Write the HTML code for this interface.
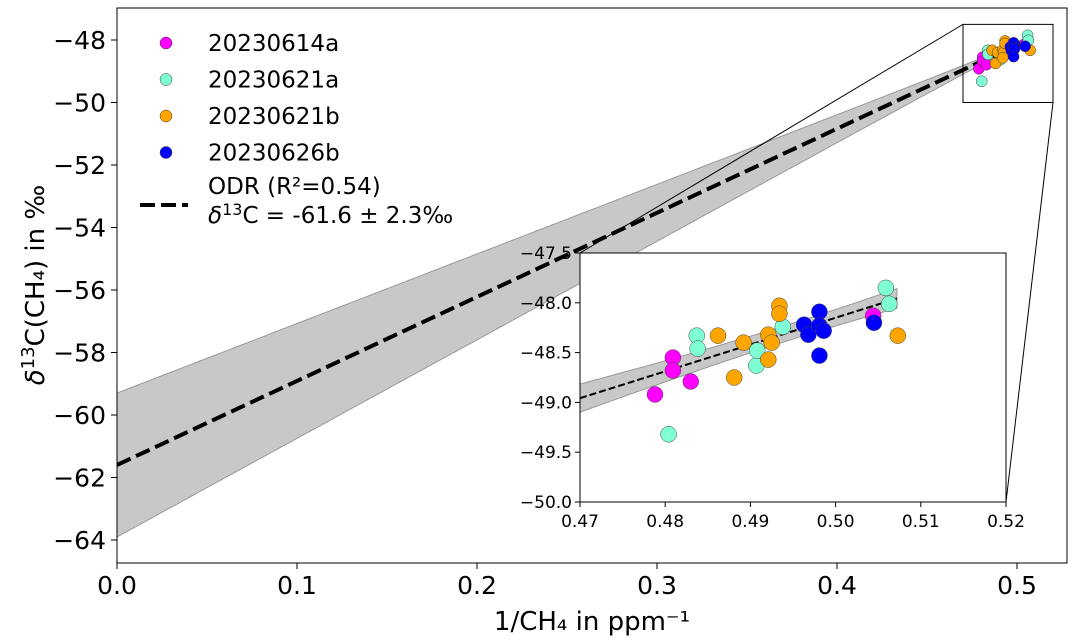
<!DOCTYPE html>
<html><head><meta charset="utf-8"><style>
body{margin:0;background:#fff;}
svg{display:block;font-family:"DejaVu Sans","Liberation Sans",sans-serif;}
</style></head><body>
<svg id="chart" width="1072" height="640" viewBox="0 0 1072 640"></svg>
<script>
const seriesNames=["20230614a","20230621a","20230621b","20230626b"];
const seriesColors=["#ff00ff","#7fffd4","#ffa500","#0000ff"];
const magX=[0.4788,0.4809,0.4809,0.4830,0.5044];
const magY=[-48.92,-48.55,-48.68,-48.79,-48.13];
const cyanX=[0.4804,0.4837,0.4838,0.4907,0.4908,0.4938,0.5059,0.5063];
const cyanY=[-49.32,-48.33,-48.46,-48.63,-48.48,-48.24,-47.85,-48.01];
const orangeX=[0.4862,0.4881,0.4892,0.4921,0.4925,0.4921,0.4934,0.4934,0.5073];
const orangeY=[-48.33,-48.75,-48.40,-48.32,-48.40,-48.57,-48.03,-48.11,-48.33];
const blueX=[0.4963,0.4968,0.4981,0.4981,0.4986,0.4981,0.5045];
const blueY=[-48.22,-48.32,-48.09,-48.23,-48.28,-48.53,-48.20];
const fitIntercept=-61.6, fitSlope=26.9;
const bandCenterX=0.495, bandMin=0.08, bandCurv=21.6;
const mainXTicks=[0,0.1,0.2,0.3,0.4,0.5];
const mainYTicks=[-48,-50,-52,-54,-56,-58,-60,-62,-64];
const insetXTicks=[0.47,0.48,0.49,0.50,0.51,0.52];
const insetYTicks=[-47.5,-48.0,-48.5,-49.0,-49.5,-50.0];

const NS="http://www.w3.org/2000/svg";
const svg=document.getElementById('chart');
function mk(tag,attrs,parent,name,inter){const e=document.createElementNS(NS,tag);for(const k in attrs)e.setAttribute(k,attrs[k]);


(parent||svg).appendChild(e);return e;}
function txt(s,attrs,parent,name){const t=mk('text',attrs,parent,name,false);t.textContent=s;return t;}

const series=[[magX,magY],[cyanX,cyanY],[orangeX,orangeY],[blueX,blueY]];
const mx=v=>117+v*1800, my=v=>40-(v+48)*31.25;
function band(x){return Math.sqrt(bandMin*bandMin+bandCurv*(x-bandCenterX)**2);}
function fit(x){return fitIntercept+fitSlope*x;}
function bandPath(sx,sy,xa,xb){let up=[],lo=[];for(let i=0;i<=100;i++){const x=xa+(xb-xa)*i/100;up.push(sx(x)+','+sy(fit(x)+band(x)));lo.unshift(sx(x)+','+sy(fit(x)-band(x)));}return 'M'+up.join('L')+'L'+lo.join('L')+'Z';}
const gm=mk('g',{},svg,'main-plot',false);
mk('defs',{},svg,'defs',false).innerHTML='<clipPath id="cm"><rect x="117" y="8" width="950" height="555"/></clipPath><clipPath id="ci"><rect x="580" y="253" width="426" height="249"/></clipPath>';
const gmc=mk('g',{'clip-path':'url(#cm)'},gm,'main-data',false);
mk('path',{d:bandPath(mx,my,0,0.508),fill:'#c8c8c8',stroke:'#999','stroke-width':1},gmc,'confidence-band',false);
mk('line',{x1:mx(0),y1:my(fit(0)),x2:mx(0.508),y2:my(fit(0.508)),stroke:'#000','stroke-width':4,'stroke-dasharray':'15,6'},gmc,'odr-fit-line',false);
series.forEach((s,k)=>s[0].forEach((x,i)=>{mk('circle',{cx:mx(x),cy:my(s[1][i]),r:5.5,fill:seriesColors[k],stroke:'#333','stroke-width':0.5},gmc,'point-'+seriesNames[k],false);}));
mk('rect',{x:117,y:8,width:950,height:555,fill:'none',stroke:'#000','stroke-width':1},gm,'main-frame',false);
mainXTicks.forEach(v=>{mk('line',{x1:mx(v),x2:mx(v),y1:563,y2:569,stroke:'#000'},gm,'x-tick',false);txt(v.toFixed(1),{x:mx(v),y:594,'font-size':25,'text-anchor':'middle'},gm,'x-tick-label');});
mainYTicks.forEach(v=>{mk('line',{x1:111,x2:117,y1:my(v),y2:my(v),stroke:'#000'},gm,'y-tick',false);txt('\u2212'+Math.abs(v),{x:106,y:my(v)+9,'font-size':25,'text-anchor':'end'},gm,'y-tick-label');});
txt('1/CH\u2084 in ppm\u207b\u00b9',{x:592,y:630,'font-size':26,'text-anchor':'middle'},gm,'x-axis-title');
const yt=txt('',{transform:'translate(44,285) rotate(-90)','font-size':26,'text-anchor':'middle'},gm,'y-axis-title');
yt.innerHTML='<tspan font-style="italic">δ</tspan><tspan dy="-10" font-size="18">13</tspan><tspan dy="10">C(CH₄) in ‰</tspan>';
mk('rect',{x:mx(0.47),y:my(-47.5),width:mx(0.52)-mx(0.47),height:my(-50)-my(-47.5),fill:'none',stroke:'#000'},gm,'zoom-rectangle',false);
mk('line',{x1:mx(0.47),y1:my(-47.5),x2:580,y2:253,stroke:'#000'},gm,'connector-line',false);
mk('line',{x1:mx(0.52),y1:my(-50),x2:1006,y2:502,stroke:'#000'},gm,'connector-line',false);
const lg=mk('g',{},svg,'legend',false);
seriesNames.forEach((n,k)=>{const y=43+k*36.5;mk('circle',{cx:166,cy:y,r:6,fill:seriesColors[k],stroke:'#333','stroke-width':0.5},lg,'legend-marker',false);txt(n,{x:208,y:y+8,'font-size':23},lg,'legend-entry');});
mk('line',{x1:140,x2:188,y1:205,y2:205,stroke:'#000','stroke-width':4,'stroke-dasharray':'15,6'},lg,'legend-line',false);
txt('ODR (R²=0.54)',{x:208,y:194,'font-size':23},lg,'legend-entry');
const l2=txt('',{x:208,y:223,'font-size':23},lg,'legend-entry');
l2.innerHTML='<tspan font-style="italic">δ</tspan><tspan dy="-8" font-size="16">13</tspan><tspan dy="8">C = -61.6 ± 2.3‰</tspan>';
const ix=v=>580+(v-0.47)*8520, iy=v=>253-(v+47.5)*99.6;
const gi=mk('g',{},svg,'inset-plot',false);
mk('rect',{x:580,y:253,width:426,height:249,fill:'#fff'},gi,'inset-background',false);
const gic=mk('g',{'clip-path':'url(#ci)'},gi,'inset-data',false);
mk('path',{d:bandPath(ix,iy,0.47,0.5072),fill:'#c8c8c8',stroke:'#999','stroke-width':1},gic,'inset-band',false);
mk('line',{x1:ix(0.47),y1:iy(fit(0.47)),x2:ix(0.5072),y2:iy(fit(0.5072)),stroke:'#000','stroke-width':2,'stroke-dasharray':'7,3'},gic,'inset-fit-line',false);
series.forEach((s,k)=>s[0].forEach((x,i)=>{mk('circle',{cx:ix(x),cy:iy(s[1][i]),r:8,fill:seriesColors[k],stroke:'#444','stroke-width':0.5},gic,'inset-point-'+seriesNames[k],false);}));
mk('rect',{x:580,y:253,width:426,height:249,fill:'none',stroke:'#000'},gi,'inset-frame',false);
insetXTicks.forEach(v=>{mk('line',{x1:ix(v),x2:ix(v),y1:502,y2:507,stroke:'#000'},gi,'inset-x-tick',false);txt(v.toFixed(2),{x:ix(v),y:527,'font-size':17,'text-anchor':'middle'},gi,'inset-x-tick-label');});
insetYTicks.forEach(v=>{mk('line',{x1:575,x2:580,y1:iy(v),y2:iy(v),stroke:'#000'},gi,'inset-y-tick',false);txt('\u2212'+Math.abs(v).toFixed(1),{x:572,y:iy(v)+6,'font-size':17,'text-anchor':'end'},gi,'inset-y-tick-label');});
</script>
</body></html>
